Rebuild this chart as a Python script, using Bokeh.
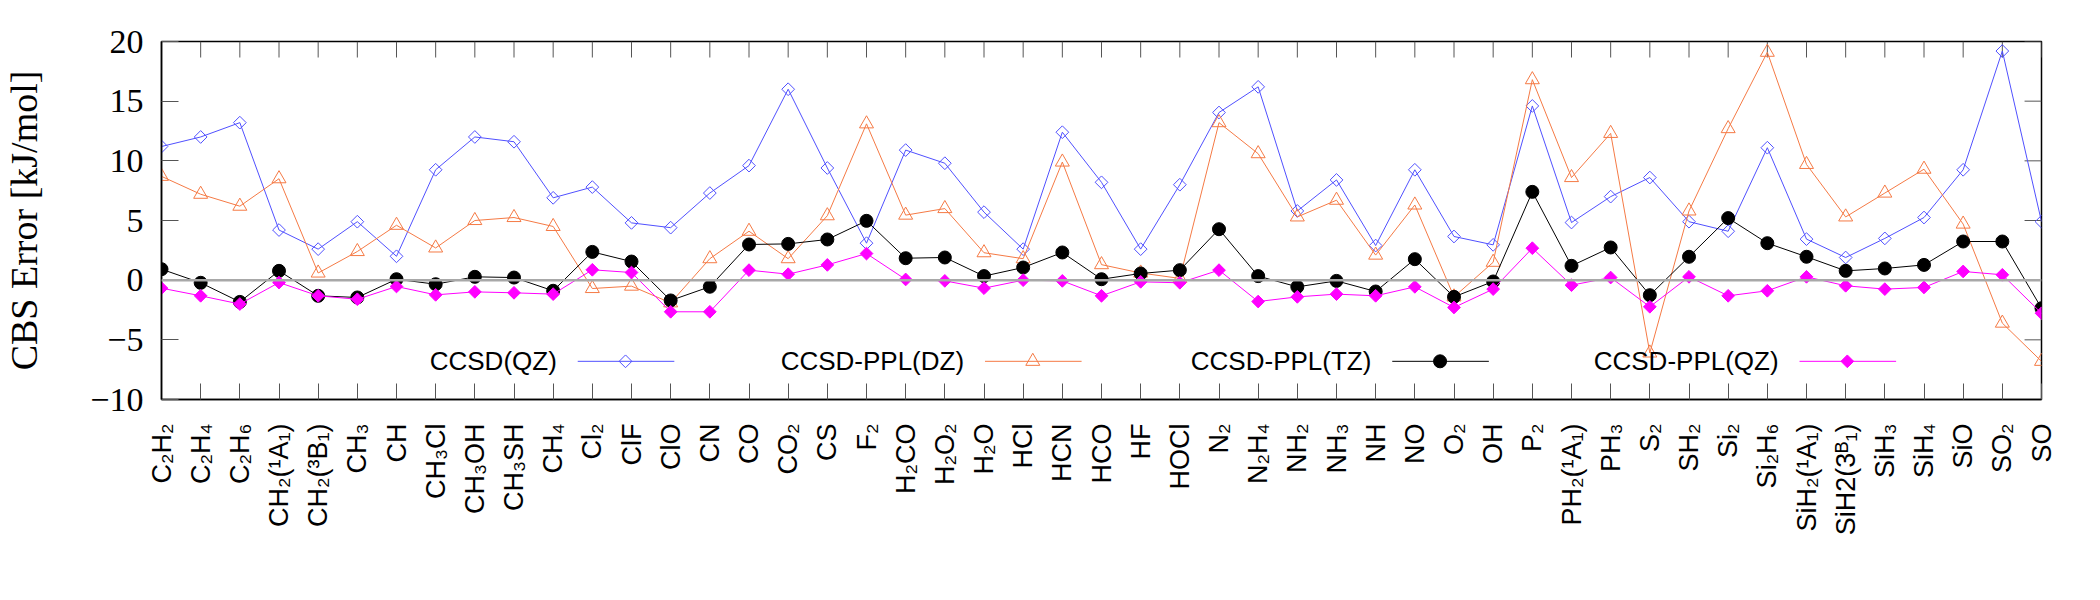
import math
from bokeh.plotting import figure
from bokeh.models import Range1d, FixedTicker, Span
from bokeh.embed import file_html
from bokeh.resources import INLINE
from bokeh.core.properties import value

# ---------------- data ----------------
molecules = ["C₂H₂", "C₂H₄", "C₂H₆", "CH₂(¹A₁)", "CH₂(³B₁)", "CH₃", "CH", "CH₃Cl", "CH₃OH",
             "CH₃SH", "CH₄", "Cl₂", "ClF", "ClO", "CN", "CO", "CO₂", "CS", "F₂", "H₂CO",
             "H₂O₂", "H₂O", "HCl", "HCN", "HCO", "HF", "HOCl", "N₂", "N₂H₄", "NH₂", "NH₃",
             "NH", "NO", "O₂", "OH", "P₂", "PH₂(¹A₁)", "PH₃", "S₂", "SH₂", "Si₂", "Si₂H₆",
             "SiH₂(¹A₁)", "SiH2(3ᴮ₁)", "SiH₃", "SiH₄", "SiO", "SO₂", "SO"]

ccsd_qz = [11.2, 12.0, 13.2, 4.2, 2.6, 4.9, 2.0, 9.25, 12.0, 11.6, 6.9, 7.8, 4.8, 4.4, 7.3,
           9.6, 16.0, 9.4, 3.1, 10.9, 9.8, 5.7, 2.6, 12.4, 8.2, 2.6, 8.0, 14.05, 16.2, 5.8,
           8.4, 2.9, 9.25, 3.66, 2.96, 14.6, 4.83, 7.0, 8.6, 4.9, 4.1, 11.1, 3.44, 1.9, 3.5,
           5.25, 9.25, 19.2, 4.9]
ppl_dz = [8.7, 7.2, 6.2, 8.5, 0.6, 2.4, 4.6, 2.7, 5.0, 5.25, 4.5, -0.7, -0.5, -1.9, 1.8,
          4.1, 1.8, 5.4, 13.1, 5.45, 6.0, 2.3, 1.8, 9.9, 1.3, 0.6, 0.15, 13.2, 10.6, 5.3,
          6.7, 2.1, 6.3, -1.4, 1.5, 16.8, 8.6, 12.3, -6.1, 5.8, 12.7, 19.1, 9.7, 5.3, 7.3,
          9.3, 4.7, -3.6, -6.8]
ppl_tz = [0.92, -0.22, -1.82, 0.78, -1.31, -1.45, 0.08, -0.34, 0.28, 0.22, -0.89, 2.37,
          1.56, -1.7, -0.55, 2.99, 3.04, 3.41, 4.97, 1.84, 1.9, 0.34, 1.06, 2.32, 0.08,
          0.56, 0.84, 4.27, 0.34, -0.56, -0.06, -0.95, 1.76, -1.4, -0.11, 7.4, 1.2, 2.74,
          -1.26, 1.96, 5.2, 3.1, 1.96, 0.78, 0.98, 1.28, 3.24, 3.24, -2.35]
ppl_qz = [-0.67, -1.31, -2.0, -0.2, -1.31, -1.6, -0.53, -1.23, -0.98, -1.06, -1.17, 0.87,
          0.64, -2.65, -2.65, 0.84, 0.5, 1.28, 2.23, 0.06, -0.06, -0.67, 0.0, -0.06, -1.31,
          -0.14, -0.22, 0.84, -1.79, -1.4, -1.17, -1.31, -0.56, -2.29, -0.75, 2.68, -0.42,
          0.22, -2.23, 0.28, -1.31, -0.89, 0.28, -0.47, -0.75, -0.61, 0.73, 0.45, -2.77]

series_names = ["CCSD(QZ)", "CCSD-PPL(DZ)", "CCSD-PPL(TZ)", "CCSD-PPL(QZ)"]
y_ticks = [-10, -5, 0, 5, 10, 15, 20]

# ---------------- layout ----------------
W, H = 2100, 600
BL, BR, BT, BB = 153, 59, 41, 201
FW = W - BL - BR
FH = H - BT - BB
idx = list(range(len(molecules)))
XMAX = len(molecules) - 1
YMIN, YMAX = -10, 20
px_per_x = FW / XMAX
px_per_y = FH / (YMAX - YMIN)
TICK_X, TICK_Y = 16, 17
TICK_COLOR = "#555555"

p = figure(width=W, height=H, output_backend="svg", toolbar_location=None,
           x_range=Range1d(0, XMAX), y_range=Range1d(YMIN, YMAX),
           min_border_left=BL, min_border_right=BR, min_border_top=BT, min_border_bottom=BB)
p.grid.visible = False
p.outline_line_color = "black"
p.outline_line_width = 1.5
p.background_fill_color = "white"
p.border_fill_color = "white"

xt = FixedTicker(ticks=idx)
yt = FixedTicker(ticks=y_ticks)

xa = p.xaxis[0]
xa.ticker = xt
xa.major_label_overrides = {i: m for i, m in enumerate(molecules)}
xa.major_label_orientation = math.pi / 2
xa.major_label_text_font = "Liberation Sans"
xa.major_label_text_font_size = "27px"
xa.major_label_text_color = "black"
xa.major_label_standoff = 24
xa.major_tick_in = TICK_X
xa.major_tick_out = 0
xa.minor_tick_line_color = None
xa.major_tick_line_color = TICK_COLOR
xa.axis_line_color = "black"
xa.axis_line_width = 1.5

ya = p.yaxis[0]
ya.ticker = yt
ya.major_label_text_font = "Liberation Serif"
ya.major_label_text_font_size = "34px"
ya.major_label_text_color = "black"
ya.major_label_standoff = 18
ya.major_tick_in = TICK_Y
ya.major_tick_out = 0
ya.minor_tick_line_color = None
ya.major_tick_line_color = TICK_COLOR
ya.axis_line_color = "black"
ya.axis_line_width = 1.5
ya.axis_label = "CBS Error [kJ/mol]"
ya.axis_label_text_font = "Liberation Serif"
ya.axis_label_text_font_size = "38px"
ya.axis_label_text_font_style = "normal"
ya.axis_label_text_color = "black"
ya.axis_label_standoff = 42

# mirror ticks on the top and right edges (gnuplot "mirror" style)
p.segment(x0=idx, y0=[YMAX] * len(idx), x1=idx, y1=[YMAX - TICK_X / px_per_y] * len(idx),
          line_color=TICK_COLOR, line_width=1)
p.segment(x0=[XMAX] * len(y_ticks), y0=y_ticks, x1=[XMAX - TICK_Y / px_per_x] * len(y_ticks),
          y1=y_ticks, line_color=TICK_COLOR, line_width=1)

p.add_layout(Span(location=0, dimension="width", line_color="#a8a8a8", line_width=2.5))

styles = [
    dict(color="#5050ff", marker="square", angle=math.pi / 4, size=9, fill=None),
    dict(color="#f57a45", marker="triangle", angle=0.0, size=14, fill=None),
    dict(color="black", marker="circle", angle=0.0, size=13, fill="black"),
    dict(color="#ff00ff", marker="square", angle=math.pi / 4, size=9, fill="#ff00ff"),
]
all_series = [ccsd_qz, ppl_dz, ppl_tz, ppl_qz]

for ys, st in zip(all_series, styles):
    p.line(idx, ys, line_color=st["color"], line_width=1)
    p.scatter(idx, ys, marker=st["marker"], angle=st["angle"], size=st["size"],
              line_color=st["color"], fill_color=st["fill"], line_width=1)

# ---------------- legend (gnuplot style: text left of sample) ----------------
def px2x(px):
    return (px - BL) / px_per_x

LEG_Y = -6.8
text_right_px = [550, 959, 1368, 1777]
for name, st, tr in zip(series_names, styles, text_right_px):
    p.text([px2x(tr)], [LEG_Y], text=[name], text_align="right", text_baseline="middle",
           text_font=value("Liberation Sans"), text_font_size="26px", text_color="black")
    p.line([px2x(tr + 21), px2x(tr + 118)], [LEG_Y, LEG_Y], line_color=st["color"], line_width=1)
    p.scatter([px2x(tr + 69)], [LEG_Y], marker=st["marker"], angle=st["angle"], size=st["size"],
              line_color=st["color"], fill_color=st["fill"], line_width=1)

open("out.html", "w").write(file_html(p, INLINE))
